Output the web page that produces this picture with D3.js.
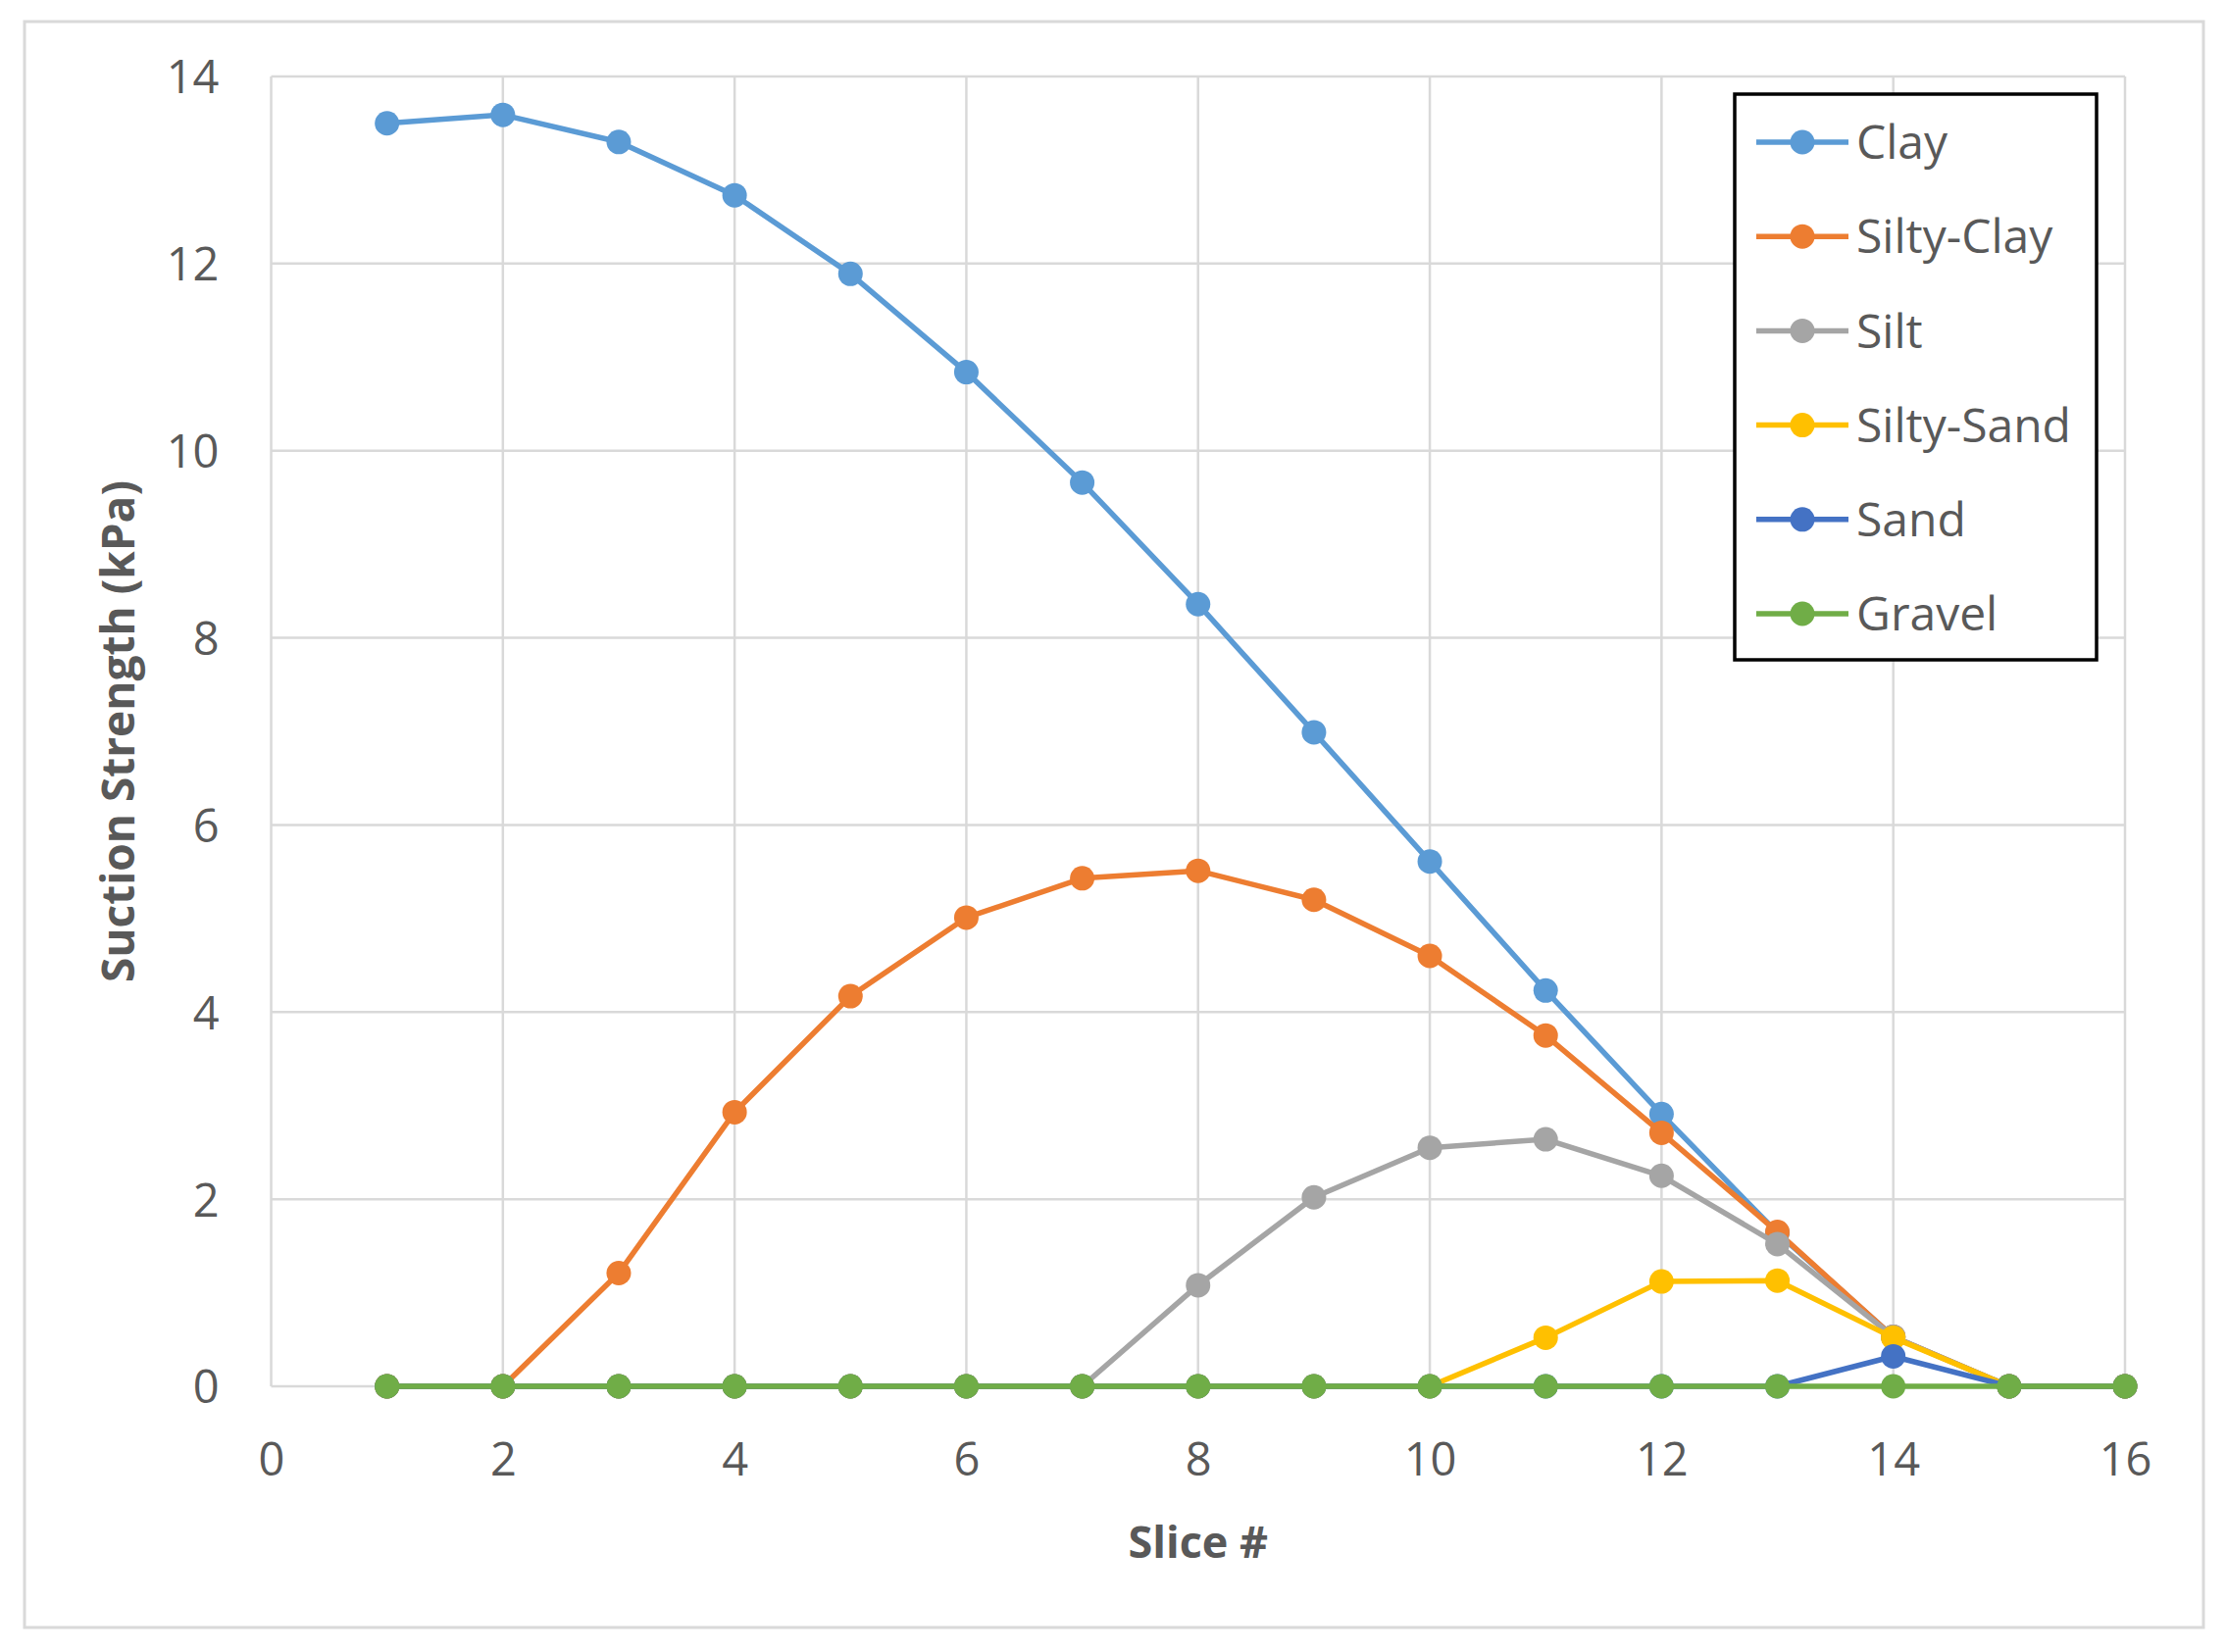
<!DOCTYPE html>
<html>
<head>
<meta charset="utf-8">
<script src="https://cdn.jsdelivr.net/npm/d3@7"></script>
<style>
  html, body { margin: 0; padding: 0; background: #ffffff; }
  svg { display: block; }
</style>
</head>
<body>
<script>
// ---- Data ----
const slices = [1, 2, 3, 4, 5, 6, 7, 8, 9, 10, 11, 12, 13, 14, 15, 16];
const seriesNames = ["Clay", "Silty-Clay", "Silt", "Silty-Sand", "Sand", "Gravel"];
const clay      = [13.50, 13.59, 13.30, 12.73, 11.89, 10.84, 9.66, 8.36, 6.99, 5.61, 4.23, 2.91, 1.64, 0.53, 0, 0];
const siltyClay = [0, 0, 1.21, 2.93, 4.17, 5.01, 5.43, 5.51, 5.20, 4.60, 3.75, 2.71, 1.65, 0.53, 0, 0];
const silt      = [0, 0, 0, 0, 0, 0, 0, 1.08, 2.02, 2.55, 2.64, 2.25, 1.52, 0.53, 0, 0];
const siltySand = [0, 0, 0, 0, 0, 0, 0, 0, 0, 0, 0.52, 1.12, 1.13, 0.52, 0, 0];
const sand      = [0, 0, 0, 0, 0, 0, 0, 0, 0, 0, 0, 0, 0, 0.32, 0, 0];
const gravel    = [0, 0, 0, 0, 0, 0, 0, 0, 0, 0, 0, 0, 0, 0, 0, 0];
const seriesValues = [clay, siltyClay, silt, siltySand, sand, gravel];
const seriesColors = ["#5B9BD5", "#ED7D31", "#A5A5A5", "#FFC000", "#4472C4", "#70AD47"];
const xTicks = [0, 2, 4, 6, 8, 10, 12, 14, 16];
const yTicks = [0, 2, 4, 6, 8, 10, 12, 14];
const xTitle = "Slice #";
const yTitle = "Suction Strength (kPa)";

// ---- Layout ----
const W = 2270, H = 1685;
const plot = { left: 276.5, right: 2167, top: 78, bottom: 1414 };
const textColor = "#595959";
const font = "'Open Sans', 'Noto Sans', sans-serif";

const svg = d3.select("body").append("svg")
  .attr("width", W).attr("height", H)
  .style("font-family", font);

svg.append("rect").attr("x", 0).attr("y", 0).attr("width", W).attr("height", H).attr("fill", "#fff");
// outer chart border
svg.append("rect").attr("x", 25).attr("y", 22).attr("width", 2222).attr("height", 1638)
  .attr("fill", "none").attr("stroke", "#d9d9d9").attr("stroke-width", 3);

const x = d3.scaleLinear().domain([0, 16]).range([plot.left, plot.right]);
const y = d3.scaleLinear().domain([0, 14]).range([plot.bottom, plot.top]);

// gridlines
const grid = svg.append("g");
grid.selectAll("line.v").data(xTicks).join("line")
  .attr("x1", d => x(d)).attr("x2", d => x(d))
  .attr("y1", plot.top).attr("y2", plot.bottom)
  .attr("stroke", "#d9d9d9").attr("stroke-width", 2.5);
grid.selectAll("line.h").data(yTicks).join("line")
  .attr("x1", plot.left).attr("x2", plot.right)
  .attr("y1", d => y(d)).attr("y2", d => y(d))
  .attr("stroke", "#d9d9d9").attr("stroke-width", 2.5);

// axes (labels only, via d3 axes)
const xAxis = svg.append("g").attr("transform", `translate(0,${plot.bottom})`)
  .call(d3.axisBottom(x).tickValues(xTicks).tickSize(0).tickPadding(91).tickFormat(d3.format("d")));
xAxis.select(".domain").remove();
xAxis.selectAll("text").attr("font-size", 47).attr("fill", textColor).attr("font-family", font).attr("dy", 0);

const yAxis = svg.append("g").attr("transform", `translate(${plot.left},0)`)
  .call(d3.axisLeft(y).tickValues(yTicks).tickSize(0).tickPadding(53).tickFormat(d3.format("d")));
yAxis.select(".domain").remove();
yAxis.selectAll("text").attr("font-size", 47).attr("fill", textColor).attr("font-family", font).attr("dy", "0.36em");

// axis titles
svg.append("text").attr("x", (plot.left + plot.right) / 2).attr("y", 1589)
  .attr("text-anchor", "middle").attr("font-size", 45).attr("font-weight", "bold")
  .attr("fill", textColor).text(xTitle);
svg.append("text")
  .attr("transform", `translate(137,${(plot.top + plot.bottom) / 2}) rotate(-90)`)
  .attr("text-anchor", "middle").attr("font-size", 46).attr("font-weight", "bold")
  .attr("fill", textColor).text(yTitle);

// series
const line = d3.line().x((d, i) => x(slices[i])).y(d => y(d));
const series = seriesNames.map((name, k) => ({ name, values: seriesValues[k], color: seriesColors[k] }));

series.forEach(s => {
  const g = svg.append("g");
  g.append("path").datum(s.values).attr("d", line)
    .attr("fill", "none").attr("stroke", s.color).attr("stroke-width", 5.5)
    .attr("stroke-linejoin", "round");
  g.selectAll("circle").data(s.values).join("circle")
    .attr("cx", (d, i) => x(slices[i])).attr("cy", d => y(d)).attr("r", 12.5)
    .attr("fill", s.color);
});

// legend
const lg = svg.append("g");
lg.append("rect").attr("x", 1769).attr("y", 96).attr("width", 369).attr("height", 577)
  .attr("fill", "#fff").attr("stroke", "#000").attr("stroke-width", 3.5);
const rowY = d3.scaleLinear().domain([0, 5]).range([145, 626]);
series.forEach((s, i) => {
  const yy = rowY(i);
  lg.append("line").attr("x1", 1791).attr("x2", 1885).attr("y1", yy).attr("y2", yy)
    .attr("stroke", s.color).attr("stroke-width", 5.5);
  lg.append("circle").attr("cx", 1838).attr("cy", yy).attr("r", 12.5).attr("fill", s.color);
  lg.append("text").attr("x", 1893).attr("y", yy).attr("dy", "0.36em")
    .attr("font-size", 48).attr("fill", textColor).text(s.name);
});
</script>
</body>
</html>
